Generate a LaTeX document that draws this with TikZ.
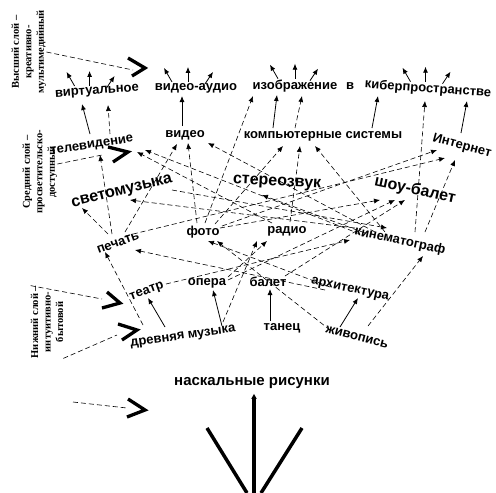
\documentclass[tikz,border=0pt]{standalone}
\usepackage{fontspec}
\setmainfont{Liberation Sans}
\newfontfamily\serifb{Liberation Serif}
\usetikzlibrary{arrows.meta,calc}
\begin{document}
\begin{tikzpicture}[x=1pt,y=-1pt,
 lab/.style={font=\bfseries\fontsize{13}{13}\selectfont, inner sep=1pt},
 big/.style={font=\bfseries\fontsize{16}{16}\selectfont, inner sep=1pt},
 side/.style={font=\serifb\bfseries\fontsize{10.5}{12.5}\selectfont, rotate=90, align=center, inner sep=0pt},
 sarr/.style={-{Latex[length=6pt,width=5pt]}, line width=0.8pt},
 darr/.style={-{Latex[length=6pt,width=5pt]}, line width=0.6pt, dash pattern=on 5pt off 3pt},
 dline/.style={line width=0.6pt, dash pattern=on 5pt off 3pt},
 chev/.style={line width=3.3pt},
 fan/.style={line width=3.5pt}]
\useasboundingbox (0,0) rectangle (496,493);

% side labels
\node[side] (top) at (29,52) {Высший слой –\\креативно-\\мультимедийный};
\node[side] (mid) at (40,172) {Средний слой –\\просветительско-\\доступный};
\node[side] (low) at (47,322) {Нижний слой –\\интуитивно-\\бытовой};

% chevrons
\coordinate (c1) at (145,68);
\coordinate (c2) at (128,152);
\coordinate (c3) at (120,303);
\coordinate (c4) at (137,330);
\coordinate (c5) at (145,410);
\coordinate (c5s) at (73,402);
\draw[chev] (128,58) -- (c1) -- (132,76);
\draw[chev] (108,147) -- (c2) -- (113,162);
\draw[chev] (107,292) -- (c3) -- (102,308);
\draw[chev] (118,324) -- (c4) -- (122,340);
\draw[chev] (128,399) -- (c5) -- (127,417);
\draw[dline] (top.south) -- ($(c1)+(-12,2)$);
\draw[dline] ($(mid.south)+(0,-8)$) -- ($(c2)+(-26,3)$);
\draw[dline] (low.north east) -- ($(c3)+(-18,-4)$);
\draw[dline] (low.south west) -- ($(c4)+(-20,5)$);
\draw[dline] (c5s) -- ($(c5)+(-18,-2)$);

% labels
\node[lab, rotate=4] (vr) at (97,92) {виртуальное};
\node[lab] (va) at (196,88) {видео-аудио};
\node[lab] (izo) at (295,86) {изображение};
\node[lab] (v) at (350,86) {в};
\node[lab, rotate=-4] (kib) at (428,89) {киберпространстве};
\node[lab, rotate=9] (tv) at (92,146) {телевидение};
\node[lab] (vid) at (185,135) {видео};
\node[lab] (komp) at (323,136) {компьютерные системы};
\node[lab, rotate=-15] (inet) at (462,146) {Интернет};
\node[big, rotate=14] (svet) at (122,192) {светомузыка};
\node[big, rotate=-3] (ster) at (277,183) {стереозвук};
\node[big, rotate=-12] (shou) at (415,190) {шоу-балет};
\node[lab, rotate=20] (pech) at (118,243) {печать};
\node[lab] (foto) at (203,232) {фото};
\node[lab] (radio) at (287,231) {радио};
\node[lab, rotate=-12] (kino) at (400,241) {кинематограф};
\node[lab, rotate=20] (teatr) at (147,292) {театр};
\node[lab] (opera) at (207,283) {опера};
\node[lab] (balet) at (268,282) {балет};
\node[lab, rotate=-12] (arch) at (350,290) {архитектура};
\node[lab, rotate=8] (drev) at (183,337) {древняя музыка};
\node[lab] (tanec) at (282,328) {танец};
\node[lab, rotate=-15] (zhiv) at (357,337) {живопись};
\node[font=\bfseries\fontsize{15}{15}\selectfont, inner sep=1pt] (nask) at (252,383) {наскальные рисунки};

% bottom fan
\coordinate (fb) at (254,493);
\coordinate (fl) at (247,493);
\coordinate (fr) at (261,493);
\draw[fan, -{Triangle[length=5pt,width=5pt]}] (fb) -- ($(nask.south)+(2,4)$);
\draw[fan] (fl) -- (207,428);
\draw[fan] (fr) -- (302,428);

% small top arrows
\foreach \n/\a/\b/\c in {vr/-22/-7/10, va/-24/-8/9, izo/-17/0/15, kib/-18/-3/14}{
  \draw[sarr] ($(\n.north)+(\a,0)$) -- ++(-8,-14);
  \draw[sarr] ($(\n.north)+(\b,0)$) -- ++(0,-15);
  \draw[sarr] ($(\n.north)+(\c,2)$) -- ++(8,-12);
}

% solid connectors
\draw[sarr] ($(tv)+(-2,-12)$) -- ($(vr)+(-15,12)$);
\draw[sarr] ($(vid)+(-3,-9)$) -- ($(va)+(-14,8)$);
\draw[sarr] ($(komp)+(-50,-8)$) -- ($(izo)+(-18,9)$);
\draw[sarr] ($(komp)+(49,-8)$) -- ($(kib)+(-50,7)$);
\draw[sarr] ($(inet)+(-1,-13)$) -- ($(kib)+(39,12)$);
\draw[sarr] ($(drev)+(-18,-10)$) -- ($(teatr)+(1,6)$);
\draw[sarr] ($(drev)+(39,-11)$) -- ($(opera)+(6,7)$);
\draw[sarr] ($(tanec)+(-12,-7)$) -- ($(balet)+(2,7)$);
\draw[sarr] ($(zhiv)+(-17,-10)$) -- ($(arch)+(8,8)$);

% dashed connectors
\draw[darr] ($(tv)+(18,-12)$) -- ($(vr)+(11,13)$);
\draw[darr] ($(foto)+(2,-9)$) -- ($(izo)+(-42,10)$);
\draw[darr] ($(komp)+(-28,-8)$) -- ($(izo)+(7,10)$);
\draw[darr] ($(kino)+(15,-9)$) -- ($(kib)+(-3,12)$);
\draw[darr] ($(foto)+(-6,-9)$) -- ($(vid)+(3,8)$);
\draw[darr] ($(pech)+(7,-11)$) -- ($(vid)+(-8,9)$);
\draw[darr] ($(kino)+(-25,-9)$) -- ($(vid)+(23,8)$);
\draw[darr] ($(pech)+(-6,-9)$) -- ($(tv)+(8,9)$);
\draw[darr] ($(radio)+(-15,-8)$) -- ($(tv)+(45,6)$);
\draw[darr] ($(kino)+(-40,-7)$) -- ($(tv)+(53,4)$);
\draw[darr] ($(foto)+(12,-8)$) -- ($(komp)+(-40,10)$);
\draw[darr] ($(radio)+(3,-9)$) -- ($(komp)+(-23,10)$);
\draw[darr] ($(kino)+(-15,-9)$) -- ($(komp)+(-8,10)$);
\draw[darr] ($(pech)+(7,-7)$) -- ($(inet)+(-17,12)$);
\draw[darr] ($(foto)+(19,-6)$) -- ($(inet)+(-25,4)$);
\draw[darr] ($(kino)+(25,-9)$) -- ($(inet)+(-7,14)$);
\draw[darr] ($(pech)+(-10,-9)$) -- ($(svet)+(-40,16)$);
\draw[darr] ($(kino)+(-45,-13)$) -- ($(svet)+(8,8)$);
\draw[darr] ($(kino)+(-35,-8)$) -- ($(ster)+(-15,12)$);
\draw[darr] ($(foto)+(17,-4)$) -- ($(shou)+(-35,10)$);
\draw[darr] ($(opera)+(21,-3)$) -- ($(shou)+(-20,10)$);
\draw[darr] ($(balet)+(17,-6)$) -- ($(shou)+(-10,10)$);
\draw[darr] ($(arch)+(-25,0)$) -- ($(pech)+(17,7)$);
\draw[darr] ($(arch)+(-20,-3)$) -- ($(foto)+(5,9)$);
\draw[darr] ($(zhiv)+(-27,-7)$) -- ($(foto)+(14,9)$);
\draw[darr] ($(drev)+(40,-15)$) -- ($(radio)+(-30,10)$);
\draw[darr] ($(opera)+(21,-6)$) -- ($(radio)+(-20,10)$);
\draw[darr] ($(teatr)+(19,-8)$) -- ($(kino)+(-50,-1)$);
\draw[darr] ($(svet)+(50,-2)$) -- ($(kino)+(-13,-13)$);
\draw[darr] ($(zhiv)+(11,-11)$) -- ($(kino)+(23,15)$);
\draw[darr] ($(drev)+(-40,-12)$) -- ($(pech)+(-13,9)$);
\end{tikzpicture}
\end{document}
